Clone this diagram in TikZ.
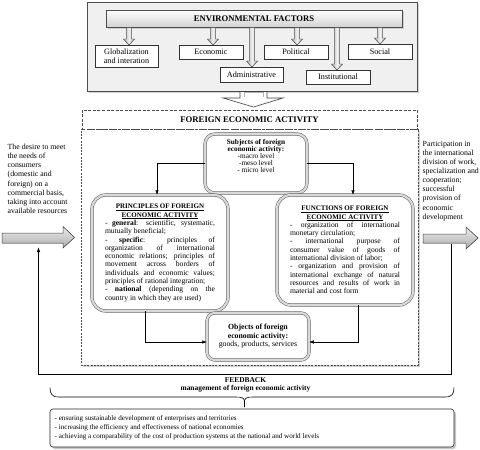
\documentclass[tikz,border=0pt]{standalone}
\usepackage{fontspec}
\setmainfont{Liberation Serif}
\usetikzlibrary{shadows,arrows.meta}
\hyphenpenalty=10000
\exhyphenpenalty=10000
\lefthyphenmin=64
\tolerance=9999
\hbadness=10000
\hfuzz=4pt
\newcommand\bodyfs{\fontsize{7.6}{8.3}\selectfont}
\newcommand\smallfs{\fontsize{7.3}{7.1}\selectfont}
\newcommand\sidefs{\fontsize{7.8}{9.1}\selectfont}
\newcommand\blkdown[3]{%
  \filldraw[blockarr] ({#1-2.5},#2) -- ({#1-2.5},{#3-6}) -- ({#1-5.5},{#3-6}) -- (#1,#3)
    -- ({#1+5.5},{#3-6}) -- ({#1+2.5},{#3-6}) -- ({#1+2.5},#2) -- cycle;}
\begin{document}
\begin{tikzpicture}[x=1pt,y=-1pt,
  factor/.style={draw=black!80, fill=white, line width=0.5pt, align=center,
    font=\fontsize{8.2}{9}\selectfont, inner sep=1pt},
  blockarr/.style={draw=black!75, line width=0.4pt, left color=gray!65, right color=gray!65, middle color=gray!10},
  bigarr/.style={draw=black!75, line width=0.5pt, top color=gray!15, bottom color=gray!65},
  roundbox/.style={draw=gray!70!black, double=gray!30, double distance=2.2pt, line width=0.5pt,
    rounded corners=12pt, fill=white, inner sep=0pt},
  conn/.style={draw=black, line width=0.5pt},
  tip/.style={-{Latex[length=4.5pt,width=3.5pt]}},
  shad/.style={drop shadow={shadow xshift=2pt, shadow yshift=-2pt, opacity=0.35, fill=gray}},
  dashbox/.style={draw=black!70, dash pattern=on 2pt off 1.2pt, line width=0.6pt, fill=white, inner sep=0pt},
  sidetext/.style={align=left, font=\sidefs, inner sep=0pt, anchor=north west},
]
\useasboundingbox (0,0) rectangle (480,450);

% ---------- environmental factors ----------
\node[draw=black!70, fill=gray!12, line width=0.5pt, minimum width=330pt, minimum height=89pt, shad] (envbg) at (252,46.5) {};
\node[draw=gray!60!black, line width=0.6pt, top color=white, bottom color=gray!35,
  minimum width=296pt, minimum height=17pt, inner sep=0pt,
  font=\fontsize{8.6}{9}\selectfont\bfseries, drop shadow={shadow xshift=1.5pt, shadow yshift=-1.5pt, opacity=0.3}] (env) at (254,18.5) {ENVIRONMENTAL FACTORS};

\node[factor, minimum width=63pt, minimum height=22pt] (glob) at (126.5,56) {Globalization\\and interation};
\node[factor, minimum width=64pt, minimum height=14pt] (econ) at (211,52) {Economic};
\node[factor, minimum width=64pt, minimum height=14pt] (pol) at (296,52) {Political};
\node[factor, minimum width=64pt, minimum height=15pt] (soc) at (380,51.5) {Social};
\node[factor, minimum width=63pt, minimum height=15pt] (adm) at (251.5,74.5) {Administrative};
\node[factor, minimum width=64pt, minimum height=14pt] (inst) at (338,77) {Institutional};

\blkdown{129}{27.5}{45}
\blkdown{213}{27.5}{45}
\blkdown{297}{27.5}{45}
\blkdown{380}{27.5}{44}
\blkdown{252}{27.5}{67}
\blkdown{337}{27.5}{70}

% big hollow arrow
\filldraw[draw=gray!50!black, fill=white, line width=0.6pt]
  (240,91.5) -- (240,98) -- (223,98) -- (253.5,107) -- (283,98) -- (267,98) -- (267,91.5) -- cycle;
\draw[gray!60, line width=0.8pt] (244,92) -- (244,97) (263,92) -- (263,97) (244,92.5) -- (263,92.5);

% ---------- foreign economic activity ----------
\node[dashbox, minimum width=337pt, minimum height=236pt, shad] (feabox) at (249.5,247) {};
\node[dashbox, dash pattern=on 3pt off 1.5pt, minimum width=335pt, minimum height=19pt,
  font=\fontsize{8.7}{9}\selectfont\bfseries] (fea) at (249.5,119.5) {FOREIGN ECONOMIC ACTIVITY};

% subjects
\node[roundbox, minimum width=102pt, minimum height=59pt, rounded corners=10pt] (subj) at (256,163.5) {};
\node[anchor=north, align=center, font=\smallfs, inner sep=0pt] (subjtxt) at (256,139)
  {\textbf{Subjects of foreign}\\\textbf{economic activity:}\\-macro level\\-meso level\\- micro level};

% principles
\node[roundbox, minimum width=136pt, minimum height=116pt, rounded corners=14pt, inner xsep=13pt,
  text width=110pt, align=justify, font=\bodyfs] (princ) at (160,253)
  {\centerline{\fontsize{7}{8.3}\selectfont\bfseries\underline{PRINCIPLES OF FOREIGN}}
   \centerline{\fontsize{7}{8.3}\selectfont\bfseries\underline{ECONOMIC ACTIVITY}}
   - \textbf{general}: scientific, systematic,\linebreak mutually beneficial;\par
   - \textbf{specific}: principles of\linebreak organization of international\linebreak economic relations; principles of\linebreak movement across borders of\linebreak individuals and economic values;\linebreak principles of rational integration;\par
   - \textbf{national} (depending on the\linebreak country in which they are used)};

% functions
\node[roundbox, minimum width=136pt, minimum height=110pt, rounded corners=14pt, inner xsep=13pt,
  text width=110pt, align=justify, font=\bodyfs] (func) at (345,250)
  {\centerline{\fontsize{7}{8.3}\selectfont\bfseries\underline{FUNCTIONS OF FOREIGN}}
   \centerline{\fontsize{7}{8.3}\selectfont\bfseries\underline{ECONOMIC ACTIVITY}}
   - organization of international\linebreak monetary circulation;\par
   - international purpose of\linebreak consumer value of goods of\linebreak international division of labor;\par
   - organization and provision of\linebreak international exchange of natural\linebreak resources and results of work in\linebreak material and cost form};

% objects
\node[roundbox, minimum width=102pt, minimum height=47pt, rounded corners=8pt, align=center,
  font=\fontsize{7.8}{8.5}\selectfont] (obj) at (258,336.5)
  {\textbf{Objects of foreign}\\\textbf{economic activity:}\\goods, products, services};

% connectors inside
\draw[conn, tip] (subj.west) -| ([xshift=-3pt]princ.north);
\draw[conn, tip] (subj.east) -| ([xshift=8pt]func.north);
\draw[conn, tip] ([xshift=-15pt]princ.south) |- ([yshift=-5.5pt]obj.west);
\draw[conn, tip] ([xshift=13pt]func.south) |- ([yshift=-5.5pt]obj.east);

% ---------- side texts and arrows ----------
\node[sidetext] (need) at (7.5,144)
  {The desire to meet\\the needs of\\consumers\\(domestic and\\foreign) on a\\commercial basis,\\taking into account\\available resources};
\node[sidetext] (part) at (422.5,141)
  {Participation in\\the international\\division of work,\\specialization and\\cooperation;\\successful\\provision of\\economic\\development};

\filldraw[bigarr] (2,233) -- (63,233) -- (63,226.5) -- (74.5,237.5) -- (63,248) -- (63,243) -- (2,243) -- cycle;
\filldraw[bigarr] (423,234) -- (466,234) -- (466,227) -- (478,238) -- (466,249) -- (466,243) -- (423,243) -- cycle;

% feedback loop
\coordinate (fbR) at (451,243.5);
\coordinate (fbC1) at (451,374);
\coordinate (fbC2) at (38.5,374);
\coordinate (fbL) at (38.5,247.5);
\draw[conn, tip] (fbR) -- (fbC1) -- (fbC2) -- (fbL);

% ---------- feedback ----------
\node[align=center, font=\fontsize{7.4}{8}\selectfont\bfseries, inner sep=0pt] (fb) at (245.5,385)
  {FEEDBACK\\management of foreign economic activity};
\coordinate (brL) at (50,387.5);
\coordinate (brR) at (454,387.5);
\coordinate (brT) at (244.5,407);
\draw[conn, line width=0.6pt] (brL) .. controls (50,394) and (52,397) .. (59,397) -- (236,397)
   .. controls (242,397) and (244.5,398) .. (244.5,401.5) -- (brT);
\draw[conn, line width=0.6pt] (brR) .. controls (454,394) and (452,397) .. (445,397) -- (253,397)
   .. controls (247,397) and (244.5,398) .. (244.5,401.5);

\node[draw=black!85, line width=0.6pt, fill=white, rounded corners=3pt, minimum width=404pt, minimum height=38pt,
  drop shadow={shadow xshift=2pt, shadow yshift=-2pt, opacity=0.45, fill=gray}] (goals) at (252,428) {};
\node[anchor=west, align=left, font=\fontsize{7.1}{9}\selectfont, inner sep=0pt] (goalstxt) at (54.5,428)
  {- ensuring sustainable development of enterprises and territories\\
   - increasing the efficiency and effectiveness of national economies\\
   - achieving a comparability of the cost of production systems at the national and world levels};
\end{tikzpicture}
\end{document}
